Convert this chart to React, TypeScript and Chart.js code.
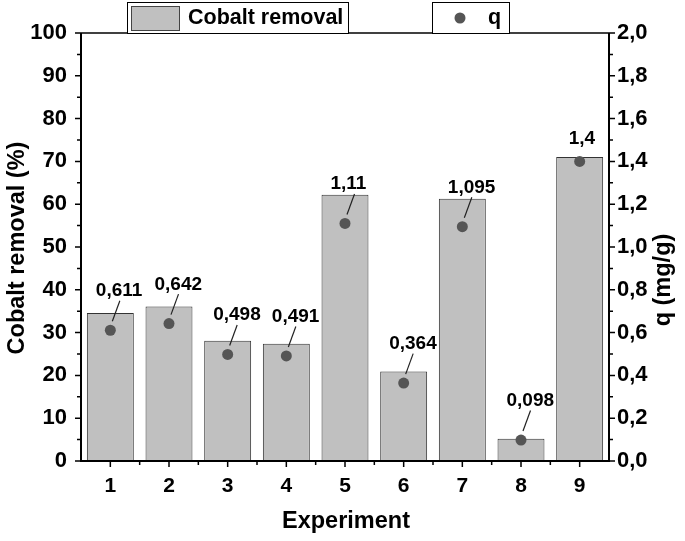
import React, { useEffect, useRef } from 'react';
import { Chart, registerables } from 'chart.js';

Chart.register(...registerables);

const experiments = ['1', '2', '3', '4', '5', '6', '7', '8', '9'];
const cobaltRemoval = [34.6, 36.1, 28.1, 27.4, 62.2, 20.9, 61.3, 5.2, 71.0];
const qValues = [0.611, 0.642, 0.498, 0.491, 1.11, 0.364, 1.095, 0.098, 1.4];
const qLabels = ['0,611', '0,642', '0,498', '0,491', '1,11', '0,364', '1,095', '0,098', '1,4'];
const showLeader = [true, true, true, true, true, true, true, true, false];

const FONT = '"Liberation Sans", Arial, sans-serif';

const decorPlugin = {
  id: 'decor',
  afterDraw(chart: any) {
    const ctx = chart.ctx as CanvasRenderingContext2D;
    const ca = chart.chartArea;
    const y = chart.scales.y;
    const y1 = chart.scales.y1;
    const x = chart.scales.x;
    ctx.save();
    ctx.strokeStyle = '#000';
    // frame
    ctx.lineWidth = 2;
    ctx.beginPath();
    ctx.moveTo(ca.left, ca.top);
    ctx.lineTo(ca.left, ca.bottom);
    ctx.lineTo(ca.right, ca.bottom);
    ctx.lineTo(ca.right, ca.top);
    ctx.stroke();
    ctx.lineWidth = 1.5;
    ctx.beginPath();
    ctx.moveTo(ca.left, ca.top);
    ctx.lineTo(ca.right, ca.top);
    ctx.stroke();
    // ticks
    ctx.lineWidth = 1.5;
    ctx.beginPath();
    for (let v = 0; v <= 100; v += 5) {
      const py = y.getPixelForValue(v);
      const len = v % 10 === 0 ? 6 : 4;
      ctx.moveTo(ca.left, py);
      ctx.lineTo(ca.left - len, py);
    }
    for (let k = 0; k <= 20; k++) {
      const py = y1.getPixelForValue(k / 10);
      const len = k % 2 === 0 ? 6 : 4;
      ctx.moveTo(ca.right, py);
      ctx.lineTo(ca.right + len, py);
    }
    for (let i = 0; i < experiments.length; i++) {
      const px = x.getPixelForValue(i);
      ctx.moveTo(px, ca.bottom);
      ctx.lineTo(px, ca.bottom + 6);
      if (i > 0) {
        const bx = (x.getPixelForValue(i - 1) + px) / 2;
        ctx.moveTo(bx, ca.bottom);
        ctx.lineTo(bx, ca.bottom + 4);
      }
    }
    ctx.stroke();

    // value labels
    const meta = chart.getDatasetMeta(1);
    ctx.fillStyle = '#000';
    ctx.font = `bold 19px ${FONT}`;
    ctx.textAlign = 'left';
    ctx.textBaseline = 'alphabetic';
    ctx.lineWidth = 1.2;
    ctx.strokeStyle = '#222';
    meta.data.forEach((pt: any, i: number) => {
      const px = pt.x;
      const py = pt.y;
      if (showLeader[i]) {
        ctx.beginPath();
        ctx.moveTo(px + 2, py - 9);
        ctx.lineTo(px + 9.5, py - 29.5);
        ctx.stroke();
        ctx.fillText(qLabels[i], px - 14.5, py - 34);
      } else {
        ctx.fillText(qLabels[i], px - 11, py - 17);
      }
    });

    // axis titles
    ctx.font = `bold 23.5px ${FONT}`;
    ctx.textAlign = 'center';
    ctx.textBaseline = 'middle';
    ctx.fillText('Experiment', (ca.left + ca.right) / 2 + 1, 522);
    ctx.save();
    ctx.translate(18, 248);
    ctx.rotate(-Math.PI / 2);
    ctx.fillText('Cobalt removal (%)', 0, 0);
    ctx.restore();
    ctx.save();
    ctx.translate(664, 280);
    ctx.rotate(-Math.PI / 2);
    ctx.fillText('q (mg/g)', 0, 0);
    ctx.restore();

    // legend
    ctx.lineWidth = 1;
    ctx.strokeStyle = '#000';
    ctx.fillStyle = '#fff';
    ctx.fillRect(127.5, 2.5, 221, 31);
    ctx.strokeRect(127.5, 2.5, 221, 31);
    ctx.fillRect(432.5, 2.5, 77, 31);
    ctx.strokeRect(432.5, 2.5, 77, 31);
    ctx.fillStyle = '#c0c0c0';
    ctx.fillRect(131.5, 6.5, 48, 24);
    ctx.strokeStyle = '#444';
    ctx.strokeRect(131.5, 6.5, 48, 24);
    ctx.fillStyle = '#555';
    ctx.beginPath();
    ctx.arc(460, 18, 5.5, 0, Math.PI * 2);
    ctx.fill();
    ctx.fillStyle = '#000';
    ctx.font = `bold 21.5px ${FONT}`;
    ctx.textAlign = 'left';
    ctx.textBaseline = 'middle';
    ctx.fillText('Cobalt removal', 188, 18);
    ctx.fillText('q', 488, 18);
    ctx.restore();
  },
};

export default function App() {
  const ref = useRef<HTMLCanvasElement>(null);
  useEffect(() => {
    document.body.style.margin = '0';
    const canvas = ref.current!;
    const chart = new Chart(canvas, {
      type: 'bar',
      data: {
        labels: experiments,
        datasets: [
          {
            type: 'bar',
            label: 'Cobalt removal',
            data: cobaltRemoval,
            yAxisID: 'y',
            backgroundColor: '#c0c0c0',
            borderColor: '#333',
            borderWidth: 1,
            barPercentage: 0.8,
            categoryPercentage: 1,
            order: 2,
          } as any,
          {
            type: 'line',
            label: 'q',
            data: qValues,
            yAxisID: 'y1',
            showLine: false,
            pointRadius: 5.5,
            pointBackgroundColor: '#555',
            pointBorderWidth: 0,
            pointBorderColor: '#555',
            order: 1,
          } as any,
        ],
      },
      options: {
        animation: false,
        responsive: false,
        events: [],
        layout: { padding: { top: 33, left: 0, right: 0, bottom: 0 } },
        plugins: { legend: { display: false }, tooltip: { enabled: false } },
        scales: {
          x: {
            offset: true,
            grid: { display: false, drawTicks: false, offset: true },
            border: { display: false },
            ticks: { color: '#000', font: { family: FONT, size: 21, weight: 'bold' }, padding: 13, maxRotation: 0 },
            afterFit: (s: any) => { s.height = 80; },
          },
          y: {
            position: 'left',
            min: 0,
            max: 100,
            grid: { display: false, drawTicks: false },
            border: { display: false },
            ticks: { stepSize: 10, color: '#000', font: { family: FONT, size: 22, weight: 'bold' }, padding: 14 },
            afterFit: (s: any) => { s.width = 81; },
          },
          y1: {
            position: 'right',
            min: 0,
            max: 2,
            grid: { display: false, drawTicks: false },
            border: { display: false },
            ticks: {
              stepSize: 0.2,
              color: '#000',
              font: { family: FONT, size: 22, weight: 'bold' },
              padding: 8,
              callback: (v: any) => Number(v).toFixed(1).replace('.', ','),
            },
            afterFit: (s: any) => { s.width = 76; },
          },
        },
      },
      plugins: [decorPlugin],
    } as any);
    return () => chart.destroy();
  }, []);
  return (
    <div style={{ width: 685, height: 541 }}>
      <canvas ref={ref} width={685} height={541} style={{ display: 'block' }} />
    </div>
  );
}
